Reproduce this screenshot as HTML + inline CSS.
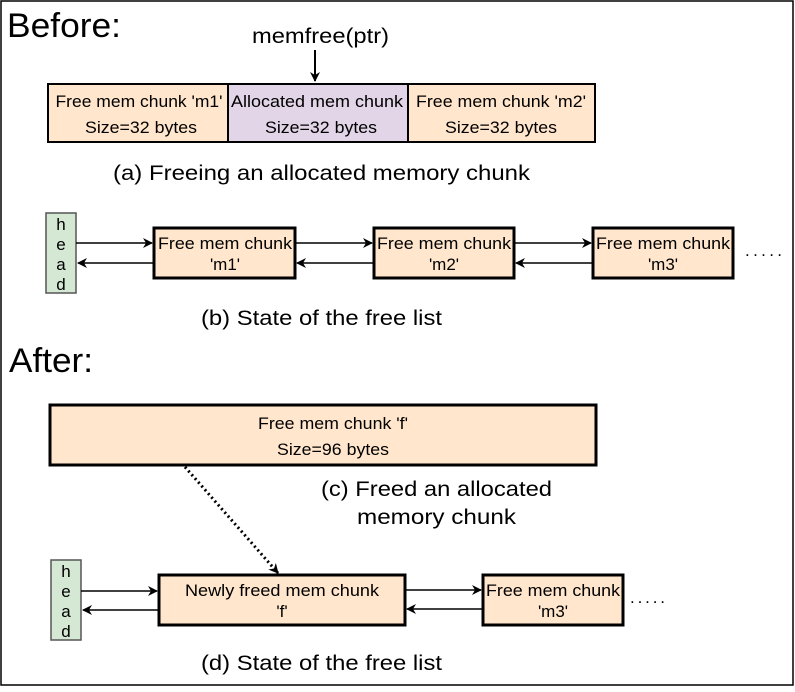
<!DOCTYPE html>
<html><head><style>
body{margin:0;width:795px;height:687px;background:#fff;overflow:hidden}
svg text{font-family:"Liberation Sans",sans-serif;fill:#000}
</style></head><body>
<svg width="795" height="687" viewBox="0 0 795 687">
<defs>
<marker id="a" markerWidth="10" markerHeight="10" refX="9" refY="5" orient="auto" markerUnits="userSpaceOnUse"><path d="M0,0 L10,5 L0,10 L3,5 Z" fill="#000"/></marker>
</defs>
<rect x="1" y="1" width="792" height="684" fill="none" stroke="#000" stroke-width="1.5"/>
<text x="7" y="37" font-size="34" textLength="114" lengthAdjust="spacingAndGlyphs">Before:</text>
<text x="252" y="43" font-size="21" textLength="137" lengthAdjust="spacingAndGlyphs">memfree(ptr)</text>
<line x1="315" y1="50" x2="315" y2="81" stroke="#000" stroke-width="2" marker-end="url(#a)"/>
<rect x="48" y="84" width="180" height="58" fill="#ffe6cc" stroke="#000" stroke-width="2"/>
<rect x="228" y="84" width="180" height="58" fill="#e1d5e7" stroke="#000" stroke-width="2"/>
<rect x="408" y="84" width="187" height="58" fill="#ffe6cc" stroke="#000" stroke-width="2"/>
<g font-size="17" text-anchor="middle" lengthAdjust="spacingAndGlyphs">
<text x="139" y="107" textLength="167" lengthAdjust="spacingAndGlyphs">Free mem chunk 'm1'</text><text x="141" y="133" textLength="112" lengthAdjust="spacingAndGlyphs">Size=32 bytes</text>
<text x="317" y="107" textLength="172" lengthAdjust="spacingAndGlyphs">Allocated mem chunk</text><text x="321" y="133" textLength="112" lengthAdjust="spacingAndGlyphs">Size=32 bytes</text>
<text x="501" y="107" textLength="170" lengthAdjust="spacingAndGlyphs">Free mem chunk 'm2'</text><text x="501" y="133" textLength="112" lengthAdjust="spacingAndGlyphs">Size=32 bytes</text>
</g>
<text x="113" y="180" font-size="21" textLength="417" lengthAdjust="spacingAndGlyphs">(a) Freeing an allocated memory chunk</text>
<rect x="46" y="213" width="30" height="80" fill="#d5e8d4" stroke="#555" stroke-width="1.5"/>
<g font-size="17" text-anchor="middle"><text x="61" y="230">h</text><text x="61" y="250">e</text><text x="61" y="270">a</text><text x="61" y="290">d</text></g>
<g stroke="#000" stroke-width="1.5">
<line x1="76" y1="243" x2="152" y2="243" marker-end="url(#a)"/>
<line x1="154" y1="263" x2="78" y2="263" marker-end="url(#a)"/>
<line x1="295" y1="243" x2="372" y2="243" marker-end="url(#a)"/>
<line x1="374" y1="263" x2="297" y2="263" marker-end="url(#a)"/>
<line x1="514" y1="243" x2="591" y2="243" marker-end="url(#a)"/>
<line x1="593" y1="263" x2="516" y2="263" marker-end="url(#a)"/>
</g>
<g fill="#ffe6cc" stroke="#000" stroke-width="3">
<rect x="154" y="228" width="141" height="50"/><rect x="374" y="228" width="140" height="50"/><rect x="593" y="228" width="140" height="50"/>
</g>
<g font-size="17" text-anchor="middle">
<text x="225" y="249" textLength="134" lengthAdjust="spacingAndGlyphs">Free mem chunk</text><text x="225" y="270">'m1'</text>
<text x="444" y="249" textLength="134" lengthAdjust="spacingAndGlyphs">Free mem chunk</text><text x="444" y="270">'m2'</text>
<text x="663" y="249" textLength="134" lengthAdjust="spacingAndGlyphs">Free mem chunk</text><text x="663" y="270">'m3'</text>
</g>
<text x="745" y="256" font-size="17" textLength="37" lengthAdjust="spacing">.....</text>
<text x="201" y="325" font-size="21" textLength="241" lengthAdjust="spacingAndGlyphs">(b) State of the free list</text>
<text x="9" y="372" font-size="34" textLength="84" lengthAdjust="spacingAndGlyphs">After:</text>
<rect x="50" y="405" width="546" height="60" fill="#ffe6cc" stroke="#000" stroke-width="3"/>
<g font-size="17" text-anchor="middle"><text x="333" y="429" textLength="150" lengthAdjust="spacingAndGlyphs">Free mem chunk 'f'</text><text x="333" y="455" textLength="112" lengthAdjust="spacingAndGlyphs">Size=96 bytes</text></g>
<text x="321" y="496" font-size="21" textLength="231" lengthAdjust="spacingAndGlyphs">(c) Freed an allocated</text>
<text x="357" y="524" font-size="21" textLength="159" lengthAdjust="spacingAndGlyphs">memory chunk</text>
<line x1="185" y1="467" x2="278" y2="573" stroke="#000" stroke-width="3" stroke-dasharray="2,3" marker-end="url(#a)"/>
<rect x="51" y="560" width="30" height="80" fill="#d5e8d4" stroke="#555" stroke-width="1.5"/>
<g font-size="17" text-anchor="middle"><text x="66" y="577">h</text><text x="66" y="597">e</text><text x="66" y="617">a</text><text x="66" y="637">d</text></g>
<g stroke="#000" stroke-width="1.5">
<line x1="81" y1="591" x2="157" y2="591" marker-end="url(#a)"/>
<line x1="159" y1="610" x2="83" y2="610" marker-end="url(#a)"/>
<line x1="405" y1="590" x2="481" y2="590" marker-end="url(#a)"/>
<line x1="483" y1="609" x2="407" y2="609" marker-end="url(#a)"/>
</g>
<g fill="#ffe6cc" stroke="#000" stroke-width="3">
<rect x="159" y="575" width="246" height="50"/><rect x="483" y="575" width="140" height="50"/>
</g>
<g font-size="17" text-anchor="middle">
<text x="282" y="596" textLength="194" lengthAdjust="spacingAndGlyphs">Newly freed mem chunk</text><text x="282" y="617">'f'</text>
<text x="553" y="596" textLength="134" lengthAdjust="spacingAndGlyphs">Free mem chunk</text><text x="553" y="617">'m3'</text>
</g>
<text x="630" y="603" font-size="17" textLength="35" lengthAdjust="spacing">.....</text>
<text x="201" y="670" font-size="21" textLength="241" lengthAdjust="spacingAndGlyphs">(d) State of the free list</text>
</svg>
</body></html>
